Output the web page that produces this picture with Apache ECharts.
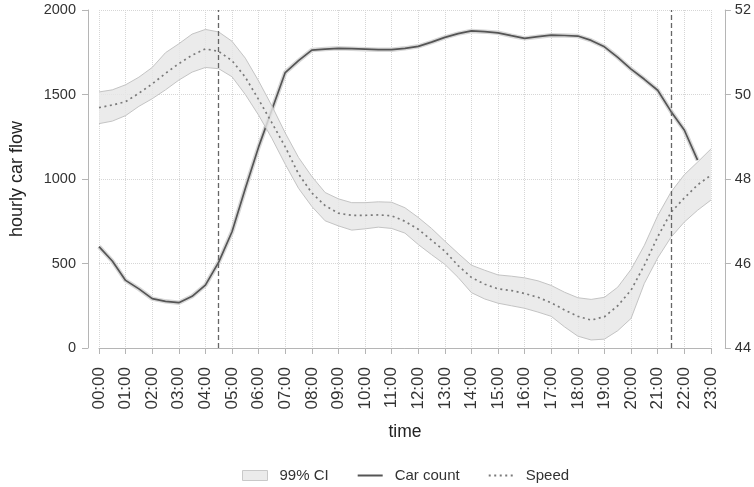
<!DOCTYPE html>
<html>
<head>
<meta charset="utf-8">
<script src="https://cdn.jsdelivr.net/npm/echarts@6/dist/echarts.min.js"></script>
<style>
html,body{margin:0;padding:0;background:#fff;}
#chart{width:754px;height:487px;}
</style>
</head>
<body>
<div id="chart"></div>
<script>
var times = ["00:00","00:30","01:00","01:30","02:00","02:30","03:00","03:30","04:00","04:30","05:00","05:30","06:00","06:30","07:00","07:30","08:00","08:30","09:00","09:30","10:00","10:30","11:00","11:30","12:00","12:30","13:00","13:30","14:00","14:30","15:00","15:30","16:00","16:30","17:00","17:30","18:00","18:30","19:00","19:30","20:00","20:30","21:00","21:30","22:00","22:30","23:00"];

var carCount = [600,515,400,350,292,276,268,306,372,508,688,944,1190,1410,1630,1700,1763,1769,1773,1771,1768,1765,1765,1773,1785,1810,1838,1860,1876,1872,1865,1848,1832,1842,1851,1849,1846,1820,1782,1720,1650,1590,1525,1400,1290,1112,null];

var speed = [49.69,49.75,49.83,50.03,50.25,50.5,50.73,50.93,51.08,51.02,50.8,50.41,49.88,49.33,48.76,48.12,47.67,47.37,47.19,47.14,47.14,47.15,47.13,47.0,46.81,46.55,46.29,45.95,45.67,45.51,45.4,45.36,45.29,45.2,45.07,44.9,44.75,44.66,44.74,45.0,45.37,45.96,46.63,47.21,47.55,47.86,48.09];

var speedUpper = [50.06,50.11,50.23,50.41,50.64,50.99,51.2,51.43,51.54,51.48,51.26,50.86,50.32,49.73,49.09,48.51,48.06,47.68,47.53,47.44,47.44,47.46,47.45,47.32,47.09,46.83,46.53,46.24,45.96,45.84,45.73,45.7,45.66,45.59,45.48,45.32,45.19,45.15,45.2,45.44,45.86,46.43,47.13,47.69,48.1,48.4,48.71];

var speedLower = [49.31,49.37,49.5,49.72,49.9,50.11,50.34,50.53,50.64,50.61,50.42,50.0,49.51,48.96,48.35,47.78,47.35,47.01,46.89,46.79,46.82,46.86,46.83,46.72,46.45,46.21,45.98,45.67,45.31,45.16,45.06,45.0,44.94,44.85,44.75,44.5,44.28,44.19,44.21,44.41,44.7,45.53,46.13,46.62,46.98,47.26,47.5];

var flowTicks = {min: 0, max: 2000, interval: 500};
var speedTicks = {min: 44, max: 52, interval: 2};
var markTimes = ["04:30", "21:30"];

var ciWidth = speedUpper.map(function (u, i) { return +(u - speedLower[i]).toFixed(3); });

var FONT = "'Liberation Sans',Arial,sans-serif";
var AX = '#b5b5b5';
var GRIDC = '#d6d6d6';
var plain = function (v) { return String(v); };

var chart = echarts.init(document.getElementById('chart'), null, {renderer: 'canvas'});
chart.setOption({
  animation: false,
  backgroundColor: '#ffffff',
  grid: {left: 98, right: 43, top: 10, bottom: 139, containLabel: false},
  legend: {
    left: 237, top: 463,
    itemWidth: 25, itemHeight: 10, itemGap: 28,
    textStyle: {fontFamily: FONT, fontSize: 15, color: '#333', padding: [0, 0, 0, 7]},
    data: [
      {name: '99% CI', icon: 'rect', itemStyle: {color: '#ebebeb', borderColor: '#c9c9c9', borderWidth: 1}},
      {name: 'Car count', itemStyle: {opacity: 0}},
      {name: 'Speed', itemStyle: {opacity: 0}}
    ]
  },
  xAxis: {
    type: 'category', data: times, boundaryGap: false,
    offset: 11,
    axisLine: {show: true, lineStyle: {color: AX, width: 1}},
    axisTick: {show: true, interval: 1, length: 6, lineStyle: {color: AX}},
    axisLabel: {interval: 1, rotate: 90, margin: 8, fontFamily: FONT, fontSize: 17, color: '#333'},
    splitLine: {show: true, interval: 1, lineStyle: {color: GRIDC, type: 'dotted', width: 1}},
    name: 'time', nameLocation: 'middle', nameGap: 64,
    nameTextStyle: {fontFamily: FONT, fontSize: 17.5, color: '#222'}
  },
  yAxis: [
    {
      type: 'value', min: flowTicks.min, max: flowTicks.max, interval: flowTicks.interval,
      position: 'left', offset: 11,
      axisLine: {show: true, lineStyle: {color: AX, width: 1}},
      axisTick: {show: true, length: 6, lineStyle: {color: AX}},
      axisLabel: {margin: 12, fontFamily: FONT, fontSize: 14.5, color: '#333', formatter: plain},
      splitLine: {show: true, lineStyle: {color: GRIDC, type: 'dotted', width: 1}},
      name: 'hourly car flow', nameLocation: 'middle', nameGap: 62, nameRotate: 90,
      nameTextStyle: {fontFamily: FONT, fontSize: 18, color: '#222'}
    },
    {
      type: 'value', min: speedTicks.min, max: speedTicks.max, interval: speedTicks.interval,
      position: 'right', offset: 14,
      axisLine: {show: true, lineStyle: {color: AX, width: 1}},
      axisTick: {show: true, length: 6, lineStyle: {color: AX}},
      axisLabel: {margin: 10, fontFamily: FONT, fontSize: 14.5, color: '#333', formatter: plain},
      splitLine: {show: false}
    }
  ],
  series: [
    {
      name: 'carHalo', type: 'line', yAxisIndex: 0, data: carCount,
      symbol: 'none', silent: true, z: 1, connectNulls: false,
      lineStyle: {color: '#d8d8d8', width: 4.5}
    },
    {
      name: 'Car count', type: 'line', yAxisIndex: 0, data: carCount,
      symbol: 'none', z: 2, color: '#555555',
      lineStyle: {color: '#555555', width: 1.7}
    },
    {
      name: 'ciLower', type: 'line', yAxisIndex: 1, data: speedLower, stack: 'ci',
      symbol: 'none', z: 3, silent: true,
      lineStyle: {color: '#c4c4c4', width: 1}
    },
    {
      name: '99% CI', type: 'line', yAxisIndex: 1, data: ciWidth, stack: 'ci',
      symbol: 'none', z: 3, color: '#ebebeb',
      lineStyle: {color: '#c4c4c4', width: 1},
      areaStyle: {color: '#e6e6e6', opacity: 0.82}
    },
    {
      name: 'Speed', type: 'line', yAxisIndex: 1, data: speed,
      symbol: 'none', z: 4, color: '#7a7a7a',
      lineStyle: {color: '#7a7a7a', width: 1.7, type: [2, 3.5]},
      markLine: {
        silent: true, symbol: 'none', label: {show: false},
        lineStyle: {color: '#666', type: [5, 3], width: 1.3},
        data: markTimes.map(function (t) { return {xAxis: t}; })
      }
    }
  ]
});
</script>
</body>
</html>
